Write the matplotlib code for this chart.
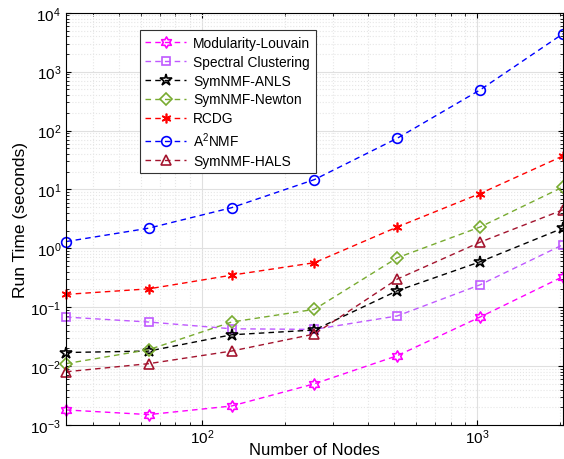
import numpy as np
import matplotlib
matplotlib.use("Agg")
import matplotlib.pyplot as plt
from matplotlib.path import Path

plt.rcParams['font.family'] = ['Liberation Sans', 'DejaVu Sans']
plt.rcParams['mathtext.fontset'] = 'custom'
plt.rcParams['mathtext.rm'] = 'Liberation Sans'
plt.rcParams['mathtext.it'] = 'Liberation Sans:italic'

nodes = [32, 64, 128, 256, 512, 1024, 2048]
louvain = [0.0018, 0.0015, 0.0021, 0.0050, 0.015, 0.068, 0.33]
spectral = [0.068, 0.056, 0.043, 0.042, 0.071, 0.24, 1.15]
anls = [0.017, 0.018, 0.034, 0.041, 0.19, 0.59, 2.2]
newton = [0.011, 0.019, 0.056, 0.092, 0.69, 2.3, 11.0]
rcdg = [0.165, 0.205, 0.35, 0.57, 2.3, 8.5, 37]
a2nmf = [1.3, 2.2, 4.9, 14.7, 74, 490, 4400]
hals = [0.008, 0.011, 0.018, 0.035, 0.30, 1.27, 4.5]

# hexagram marker (MATLAB 'h')
ang = np.pi / 2 + np.arange(12) * np.pi / 6
rad = np.where(np.arange(12) % 2 == 0, 1.0, 1 / np.sqrt(3))
verts = np.column_stack([rad * np.cos(ang), rad * np.sin(ang)])
hexagram = Path(np.vstack([verts, verts[:1]]), closed=True)

series = [
    (louvain, 'Modularity-Louvain', (1, 0, 1), hexagram, 8),
    (spectral, 'Spectral Clustering', (0.75, 0.35, 1.0), 's', 6),
    (anls, 'SymNMF-ANLS', 'k', '*', 9),
    (newton, 'SymNMF-Newton', (0.47, 0.67, 0.19), 'D', 6),
    (rcdg, 'RCDG', (1, 0, 0), (6, 2, 0), 7),
    (a2nmf, 'A$^2$NMF', (0, 0, 1), 'o', 7),
    (hals, 'SymNMF-HALS', (0.64, 0.08, 0.18), '^', 7),
]

fig = plt.figure(figsize=(5.64, 4.6), dpi=100)
ax = fig.add_axes([0.117, 0.074, 0.881, 0.896])

for y, lab, col, mk, ms in series:
    ax.plot(nodes, y, linestyle='--', color=col, marker=mk, markersize=ms,
            markerfacecolor='none', markeredgecolor=col, markeredgewidth=1.2,
            linewidth=1.0, label=lab, dashes=(4, 3), clip_on=False)

ax.set_xscale('log')
ax.set_yscale('log')
ax.set_xticks([100, 1000])
ax.set_yticks([1e-3, 1e-2, 1e-1, 1e0, 1e1, 1e2, 1e3, 1e4])
ax.set_xlim(32, 2048)
ax.set_ylim(1e-3, 1e4)
ax.grid(True, which='major', color='#e0e0e0', linewidth=0.8)
ax.grid(True, which='minor', color='#e6e6e6', linestyle=':', linewidth=0.8)
ax.set_axisbelow(True)
ax.tick_params(which='both', direction='in', top=True, right=True, labelsize=11)
ax.tick_params(axis='x', pad=2)
for s in ax.spines.values():
    s.set_linewidth(0.8)
ax.set_xlabel('Number of Nodes', fontsize=12, labelpad=-3)
ax.set_ylabel('Run Time (seconds)', fontsize=12.5, labelpad=2)

leg = ax.legend(loc='upper left', bbox_to_anchor=(0.14, 0.968), fontsize=9.9,
                handlelength=3, fancybox=False, framealpha=1, edgecolor='#333333',
                borderpad=0.4, labelspacing=0.36, handletextpad=0.5,
                borderaxespad=0.3)
leg.get_frame().set_linewidth(0.8)

fig.savefig('out.png', dpi=100)
